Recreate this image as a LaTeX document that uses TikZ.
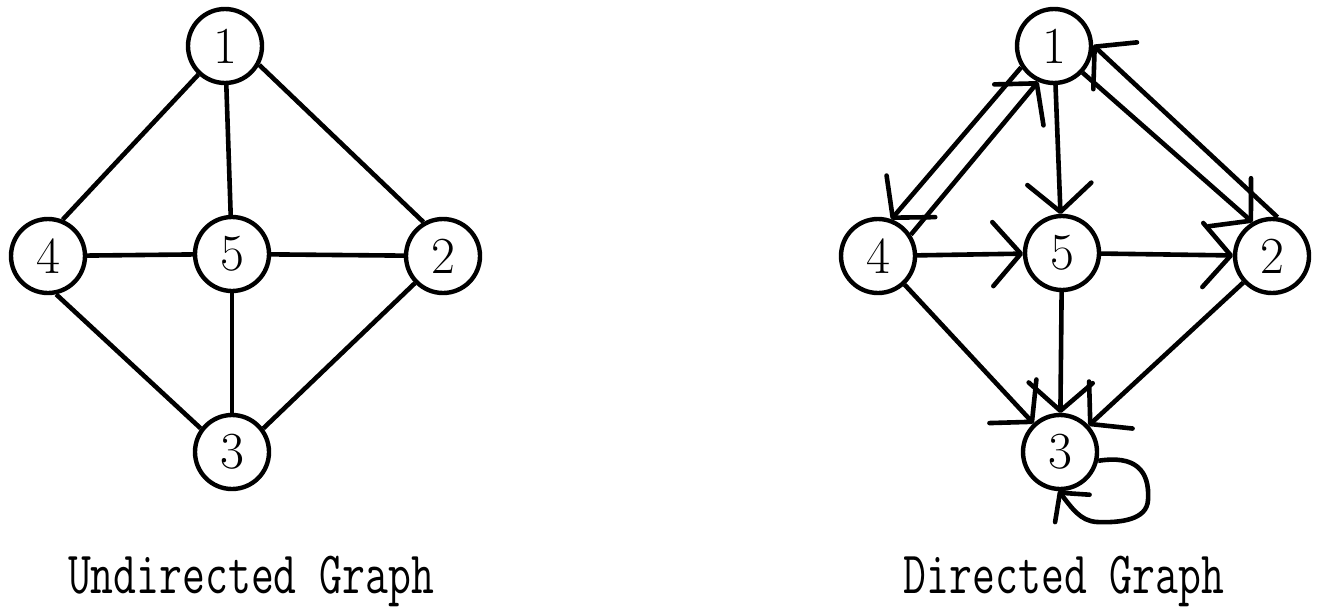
\documentclass[tikz,border=0pt]{standalone}
\usepackage{fontspec}
\usepackage{graphicx}
\usetikzlibrary{arrows.meta}
\pgfdeclarearrow{
  name = Vee,
  parameters = {\the\pgfarrowlength,\the\pgfarrowwidth},
  setup code = {
    \pgfarrowssettipend{1pt}
    \pgfarrowssetlineend{-1pt}
    \pgfarrowssetbackend{-\pgfarrowlength}
    \pgfarrowssetvisualbackend{-\pgfarrowlength}
    \pgfarrowsupperhullpoint{-\pgfarrowlength}{.5\pgfarrowwidth}
    \pgfarrowsupperhullpoint{1pt}{0pt}
  },
  drawing code = {
    \pgfsetlinewidth{2.3pt}\pgfsetroundcap\pgfsetroundjoin
    \pgfpathmoveto{\pgfqpoint{-\pgfarrowlength}{.5\pgfarrowwidth}}
    \pgfpathlineto{\pgfqpoint{0pt}{0pt}}
    \pgfpathlineto{\pgfqpoint{-\pgfarrowlength}{-.5\pgfarrowwidth}}
    \pgfusepathqstroke
  },
  defaults = {length=13pt,width=32pt}
}
\newcommand\mylab[1]{\scalebox{0.74}[1]{#1}}
\begin{document}
\begin{tikzpicture}[x=0.5pt,y=-0.5pt,
  vert/.style={circle,draw,line width=2.2pt,minimum size=37pt,inner sep=0pt,
    font=\fontsize{26}{26}\selectfont},
  edge/.style={line width=2.3pt},
  arr/.style={line width=2.3pt,-{Vee[length=14pt,width=32pt]}},
  lab/.style={font=\ttfamily\fontsize{30}{30}\selectfont,inner sep=0pt,anchor=base}]
\useasboundingbox (0,0) rectangle (1320,610);
% undirected
\node[vert] (u1) at (225,46) {1};
\node[vert] (u2) at (443,256) {2};
\node[vert] (u3) at (232,452) {3};
\node[vert] (u4) at (48,256) {4};
\node[vert] (u5) at (232,254) {5};
\draw[edge] (u1.227) -- (u4.68);
\draw[edge] (u1) -- (u5);
\draw[edge] (u1.331) -- (u2.120);
\draw[edge] (u4) -- (u5);
\draw[edge] (u5) -- (u2);
\draw[edge] (u5) -- (u3);
\draw[edge] (u4.282) -- (u3.143);
\draw[edge] (u2.224) -- (u3.37);
% directed
\node[vert] (d1) at (1054,46) {1};
\node[vert] (d2) at (1272,256) {2};
\node[vert] (d3) at (1060,452) {3};
\node[vert] (d4) at (878,256) {4};
\node[vert] (d5) at (1062,253) {5};
\draw[arr] (d1.213) -- (d4.70);
\draw[arr] (d4.33) -- (d1.246);
\draw[arr] (d1) -- (d5);
\draw[arr] (d1.317) -- (d2.120);
\draw[arr] (d2.82) -- (d1.1);
\draw[arr] (d4) -- (d5);
\draw[arr] (d5) -- (d2);
\draw[arr] (d4) -- (d3);
\draw[arr] (d5) -- (d3);
\draw[arr] (d2) -- (d3);
\draw[line width=2.3pt,-{Vee[length=10pt,width=22pt]}]
  (d3.-13) .. controls (1135,455) and (1150,470) .. (1148,500)
  .. controls (1147,520) and (1120,523) .. (1097,522)
  .. controls (1080,521) and (1072,508) .. (d3.-92);
% labels
\node[lab] (lu) at (251,593) {\mylab{Undirected Graph}};
\node[lab] (ld) at (1064,593) {\mylab{Directed Graph}};
\end{tikzpicture}
\end{document}
